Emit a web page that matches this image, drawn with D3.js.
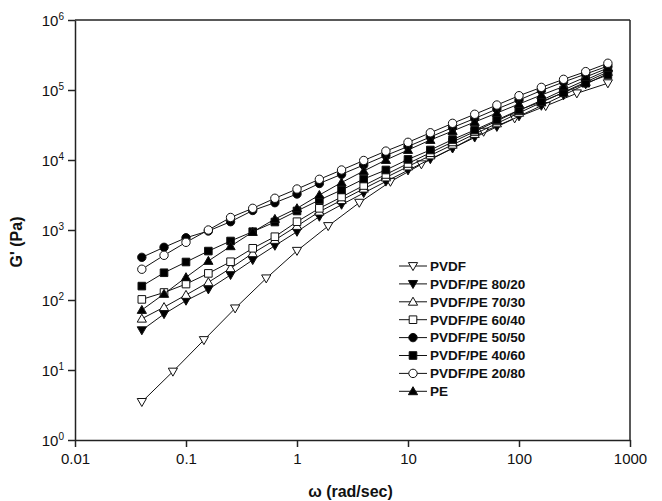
<!DOCTYPE html>
<html lang="en">
<head>
  <meta charset="utf-8">
  <title>G' vs frequency, PVDF/PE blends</title>
  <script src="https://d3js.org/d3.v7.min.js"></script>
  <style>
    body { margin: 0; background: #fff; }
    svg { display: block; font-family: Arial, "Liberation Sans", sans-serif; }
  </style>
</head>
<body>
  <div id="my_dataviz"></div>
  <script>
    // frequency grid (rad/s) for the blends and PE
    var omega = [0.04, 0.0634, 0.1, 0.159, 0.252, 0.399, 0.632, 1, 1.59, 2.52, 3.99, 6.32,
      10, 15.9, 25.2, 39.9, 63.2, 100, 159, 252, 399, 632];
    // PVDF was measured on a coarser grid
    var omegaPVDF = [0.04, 0.0762, 0.145, 0.277, 0.528, 1.0, 1.91, 3.64, 6.94, 13.2, 25.2, 48.0,
      91.4, 174, 332, 632];

    var gPVDF = [3.5, 9.5, 26.8, 76, 204, 505, 1140, 2455, 4900, 8690, 14700, 25400, 39400, 59100, 89700, 125000];
    var g8020 = [37, 63, 98, 142, 228, 373, 597, 946, 1550, 2300, 3380, 4930, 7130, 10300, 14700, 21000,
      29800, 42200, 59700, 84300, 121000, 172000];
    var g7030 = [54, 79, 118, 179, 284, 465, 720, 1140, 1825, 2665, 3890, 5620, 8070, 11600, 16500, 23500,
      33300, 47100, 66300, 93000, 130000, 181000];
    var g6040 = [102, 128, 169, 240, 352, 548, 802, 1314, 2040, 2960, 4320, 6210, 8910, 12700, 18100, 25500,
      36100, 50900, 71200, 100000, 139000, 193000];
    var g5050 = [407, 566, 774, 968, 1314, 1900, 2455, 3270, 4620, 6250, 8480, 11600, 15600, 21300, 29100, 39200,
      53500, 72000, 98400, 130000, 169000, 220000];
    var g4060 = [158, 245, 349, 500, 696, 946, 1300, 1870, 2680, 3730, 5350, 7200, 10200, 13900, 19600, 26800,
      37300, 51800, 68000, 91500, 125000, 164000];
    var g2080 = [275, 435, 667, 1000, 1510, 2040, 2840, 3850, 5300, 7200, 9840, 13400, 17900, 24500, 33400, 45000,
      61000, 82900, 109000, 142000, 183000, 241000];
    var gPE = [72, 122, 211, 361, 585, 936, 1436, 2040, 3160, 4770, 6960, 10000, 13900, 19300, 25900, 34900,
      46900, 63100, 84800, 112000, 153000, 206000];

    var xTicks = [0.01, 0.1, 1, 10, 100, 1000];
    var yExps = [0, 1, 2, 3, 4, 5, 6];

    // legend order, drawing order below
    var series = [
      { name: "PVDF", x: omegaPVDF, y: gPVDF, shape: "down", fill: "white" },
      { name: "PVDF/PE 80/20", x: omega, y: g8020, shape: "down", fill: "black" },
      { name: "PVDF/PE 70/30", x: omega, y: g7030, shape: "up", fill: "white" },
      { name: "PVDF/PE 60/40", x: omega, y: g6040, shape: "square", fill: "white" },
      { name: "PVDF/PE 50/50", x: omega, y: g5050, shape: "circle", fill: "black" },
      { name: "PVDF/PE 40/60", x: omega, y: g4060, shape: "square", fill: "black" },
      { name: "PVDF/PE 20/80", x: omega, y: g2080, shape: "circle", fill: "white" },
      { name: "PE", x: omega, y: gPE, shape: "up", fill: "black" }
    ];
    var drawOrder = [0, 1, 2, 3, 5, 4, 7, 6];

    var margin = { top: 20, right: 32, bottom: 61, left: 75 },
      width = 662 - margin.left - margin.right,
      height = 501 - margin.top - margin.bottom;

    var svg = d3.select("#my_dataviz")
      .append("svg")
      .attr("width", 662)
      .attr("height", 501)
      .append("g")
      .attr("transform", "translate(" + margin.left + "," + margin.top + ")");

    var x = d3.scaleLog().domain([0.01, 1000]).range([0, width]);
    var y = d3.scaleLog().domain([1, 1e6]).range([height, 0]);

    // marker path centred on 0,0
    function marker(shape) {
      var r = 4.2;
      if (shape === "circle") {
        return "M" + r + ",0A" + r + "," + r + " 0 1,1 " + (-r) + ",0A" + r + "," + r + " 0 1,1 " + r + ",0Z";
      }
      if (shape === "square") {
        var s = 3.8;
        return "M" + (-s) + "," + (-s) + "H" + s + "V" + s + "H" + (-s) + "Z";
      }
      if (shape === "up") {
        return "M0,-4.6L4.6,3.4L-4.6,3.4Z";
      }
      return "M0,4.6L4.6,-3.4L-4.6,-3.4Z";
    }

    // axes
    var xAxis = svg.append("g")
      .attr("transform", "translate(0," + height + ")")
      .call(d3.axisBottom(x).tickValues(xTicks).tickFormat(function (d) { return String(d); })
        .tickSize(7).tickSizeOuter(0).tickPadding(6));
    xAxis.selectAll("text").style("font-size", "15px").attr("fill", "#111");

    var yAxis = svg.append("g")
      .call(d3.axisLeft(y).tickValues(yExps.map(function (e) { return Math.pow(10, e); }))
        .tickFormat("").tickSize(7).tickSizeOuter(0));
    yAxis.selectAll(".tick").each(function (d) {
      var t = d3.select(this).append("text")
        .attr("x", -11)
        .attr("dy", "0.36em")
        .attr("text-anchor", "end")
        .attr("fill", "#111")
        .style("font-size", "15px");
      t.append("tspan").text("10");
      t.append("tspan").attr("dy", "-0.55em").style("font-size", "10px")
        .text(Math.round(Math.log10(d)));
    });

    svg.selectAll(".domain, .tick line").attr("stroke", "#222").attr("stroke-width", 1.5);

    // frame top and right
    svg.append("line").attr("x1", 0).attr("x2", width).attr("y1", 0).attr("y2", 0)
      .attr("stroke", "#222").attr("stroke-width", 1.5);
    svg.append("line").attr("x1", width).attr("x2", width).attr("y1", 0).attr("y2", height)
      .attr("stroke", "#222").attr("stroke-width", 1.5);

    // series
    var line = d3.line()
      .x(function (d) { return x(d[0]); })
      .y(function (d) { return y(d[1]); });

    drawOrder.forEach(function (i) {
      var s = series[i];
      var pts = s.x.map(function (v, j) { return [v, s.y[j]]; });
      var g = svg.append("g");
      g.append("path")
        .datum(pts)
        .attr("d", line)
        .attr("fill", "none")
        .attr("stroke", "#111")
        .attr("stroke-width", 1);
      g.selectAll("path.pt")
        .data(pts)
        .enter()
        .append("path")
        .attr("class", "pt")
        .attr("transform", function (d) { return "translate(" + x(d[0]) + "," + y(d[1]) + ")"; })
        .attr("d", marker(s.shape))
        .attr("fill", s.fill)
        .attr("stroke", "#111")
        .attr("stroke-width", 1);
    });

    // legend
    var legend = svg.append("g").attr("transform", "translate(324,246)");
    series.forEach(function (s, i) {
      var row = legend.append("g").attr("transform", "translate(0," + (i * 17.9) + ")");
      row.append("line").attr("x1", 0).attr("x2", 28).attr("y1", 0).attr("y2", 0)
        .attr("stroke", "#111").attr("stroke-width", 1);
      row.append("path").attr("transform", "translate(14,0)")
        .attr("d", marker(s.shape))
        .attr("fill", s.fill).attr("stroke", "#111").attr("stroke-width", 1);
      row.append("text").attr("x", 31).attr("dy", "0.36em")
        .style("font-size", "13.5px").style("font-weight", "bold").attr("fill", "#111")
        .text(s.name);
    });

    // axis titles
    svg.append("text")
      .attr("x", width / 2 - 2)
      .attr("y", height + 57)
      .attr("text-anchor", "middle")
      .style("font-size", "16px").style("font-weight", "bold").attr("fill", "#111")
      .text("ω (rad/sec)");

    svg.append("text")
      .attr("transform", "translate(" + (-53) + "," + (height / 2 + 12) + ") rotate(-90)")
      .attr("text-anchor", "middle")
      .style("font-size", "16px").style("font-weight", "bold").attr("fill", "#111")
      .text("G' (Pa)");
  </script>
</body>
</html>
